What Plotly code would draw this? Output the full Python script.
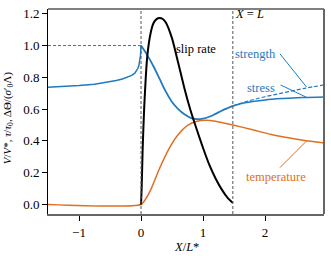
import plotly.graph_objects as go

# ---------------- data ----------------
L = 1.48  # X = L position

# stress / strength ahead of the front (X < 0)
x_pre = [-1.5, -1.25, -1.0, -0.75, -0.5, -0.4, -0.3, -0.2, -0.15, -0.1, -0.07, -0.05,
         -0.035, -0.02, -0.01, -0.004, 0.0]
stress_pre = [0.738, 0.742, 0.748, 0.757, 0.772, 0.78, 0.79, 0.803, 0.812, 0.826, 0.842, 0.857,
              0.874, 0.9, 0.935, 0.965, 1.0]
peak_strength = 1.0

# stress = strength on 0 < X < L
x_mid = [0.0, 0.1, 0.2, 0.3, 0.4, 0.5, 0.6, 0.7, 0.8, 0.9, 1.0, 1.1, 1.2, 1.3, 1.4, L]
stress_mid = [1.0, 0.94, 0.87, 0.79, 0.71, 0.645, 0.6, 0.567, 0.545, 0.537, 0.54, 0.552,
              0.57, 0.59, 0.607, 0.62]

# behind X = L
x_post = [L, 1.7, 2.0, 2.3, 2.6, 2.95]
stress_post = [0.62, 0.642, 0.658, 0.667, 0.673, 0.677]
strength_post = [0.62, 0.648, 0.678, 0.703, 0.728, 0.752]

# slip rate
x_slip = [0.0, 0.01, 0.025, 0.05, 0.1, 0.15, 0.2, 0.25, 0.3, 0.35, 0.4, 0.5, 0.6, 0.7, 0.8,
          0.9, 1.0, 1.1, 1.2, 1.3, 1.4, L]
slip = [0.0, 0.1, 0.33, 0.6, 0.93, 1.07, 1.14, 1.166, 1.173, 1.167, 1.145, 1.045, 0.89, 0.73,
        0.59, 0.47, 0.355, 0.25, 0.165, 0.095, 0.04, 0.01]

# temperature
x_temp = [-1.5, 0.0, 0.05, 0.15, 0.3, 0.45, 0.6, 0.75, 0.9, 1.05, 1.2, L, 1.8, 2.1, 2.4, 2.7, 2.95]
temp = [0.0, 0.0, 0.02, 0.087, 0.228, 0.35, 0.44, 0.498, 0.524, 0.53, 0.524, 0.50, 0.47,
        0.44, 0.418, 0.399, 0.387]

x_range = [-1.5, 2.95]
y_range = [-0.06, 1.23]
x_ticks = [-1, 0, 1, 2]
y_ticks = [0.0, 0.2, 0.4, 0.6, 0.8, 1.0, 1.2]
ref_lines = [0.0, L]

BLUE = "#1f7bbf"
ORANGE = "#e07020"
FONT = "Liberation Serif"

fig = go.Figure()

fig.add_trace(go.Scatter(x=[x_range[0], 0.0], y=[peak_strength, peak_strength], mode="lines",
                         line=dict(color=BLUE, width=1, dash="3px,2px")))
fig.add_trace(go.Scatter(x=x_pre, y=stress_pre, mode="lines", line=dict(color=BLUE, width=1.5)))
fig.add_trace(go.Scatter(x=x_mid, y=stress_mid, mode="lines", line=dict(color=BLUE, width=1.8, shape="spline")))
fig.add_trace(go.Scatter(x=x_post, y=stress_post, mode="lines", line=dict(color=BLUE, width=1.5, shape="spline")))
fig.add_trace(go.Scatter(x=x_post, y=strength_post, mode="lines", line=dict(color=BLUE, width=1.2, dash="4px,2px", shape="spline")))
fig.add_trace(go.Scatter(x=x_temp, y=temp, mode="lines", line=dict(color=ORANGE, width=1.5, shape="spline", smoothing=0.8)))
fig.add_trace(go.Scatter(x=x_slip, y=slip, mode="lines", line=dict(color="black", width=2, shape="spline", smoothing=0.6)))

shapes = []
for xv in ref_lines:
    shapes.append(dict(type="line", xref="x", yref="paper", x0=xv, x1=xv, y0=0, y1=1,
                       line=dict(color="#555555", width=1, dash="3px,2px"), layer="above"))
shapes.append(dict(type="line", xref="paper", yref="paper", x0=0, x1=1, y0=1, y1=1,
                   line=dict(color="black", width=1)))
shapes.append(dict(type="line", xref="paper", yref="paper", x0=1, x1=1, y0=0, y1=1,
                   line=dict(color="#666666", width=2)))
leaders = [
    ((2.24, 0.948), (2.67, 0.738), BLUE),
    ((2.25, 0.752), (2.67, 0.674), BLUE),
    ((2.24, 0.232), (2.67, 0.40), ORANGE),
]
for (x0, y0), (x1, y1), c in leaders:
    shapes.append(dict(type="line", xref="x", yref="y", x0=x0, y0=y0, x1=x1, y1=y1,
                       line=dict(color=c, width=1)))

annotations = [
    dict(x=0.89, y=0.98, text="slip rate", font=dict(color="black")),
    dict(x=1.84, y=0.948, text="strength", font=dict(color=BLUE)),
    dict(x=1.94, y=0.735, text="stress", font=dict(color=BLUE)),
    dict(x=2.18, y=0.17, text="temperature", font=dict(color=ORANGE)),
    dict(x=L, y=1.198, text="<i>X</i> = <i>L</i>", xanchor="left", font=dict(color="black")),
]
for a in annotations:
    a.update(xref="x", yref="y", showarrow=False)
    a["font"].update(family=FONT, size=12.5)
    a.setdefault("xanchor", "center")

annotations.append(dict(xref="paper", yref="paper", x=0.5, y=-0.163, xanchor="center", yanchor="middle",
                        text="<i>X</i>/<i>L</i>*", showarrow=False,
                        font=dict(family=FONT, size=12.5, color="black")))
annotations.append(dict(xref="paper", yref="paper", x=-0.146, y=0.47, xanchor="center", yanchor="middle",
                        textangle=-90, showarrow=False,
                        text="<i>V</i>/<i>V</i>*, <i>τ</i>/<i>τ</i><sub>0</sub>, ΔΘ/(<i>σ</i>′<sub>0</sub>Λ)",
                        font=dict(family=FONT, size=11, color="black")))

fig.update_layout(
    width=331, height=256,
    margin=dict(l=48, r=7, t=6, b=42),
    paper_bgcolor="white", plot_bgcolor="white",
    showlegend=False,
    font=dict(family=FONT, size=12, color="black"),
    shapes=shapes, annotations=annotations,
    xaxis=dict(range=x_range, tickvals=x_ticks, showgrid=False, zeroline=False,
               showline=True, linecolor="#666666", linewidth=2,
               ticks="outside", ticklen=5, tickcolor="black", tickwidth=1,
               tickfont=dict(size=13)),
    yaxis=dict(range=y_range, tickvals=y_ticks, tickformat=".1f", showgrid=False, zeroline=False,
               showline=True, linecolor="black", linewidth=1,
               ticks="outside", ticklen=5, tickcolor="black", tickwidth=1,
               tickfont=dict(size=13)),
)

fig.write_html("out.html", config={"displayModeBar": False},
               post_script="document.body.style.margin='0';document.body.style.overflow='hidden';")
